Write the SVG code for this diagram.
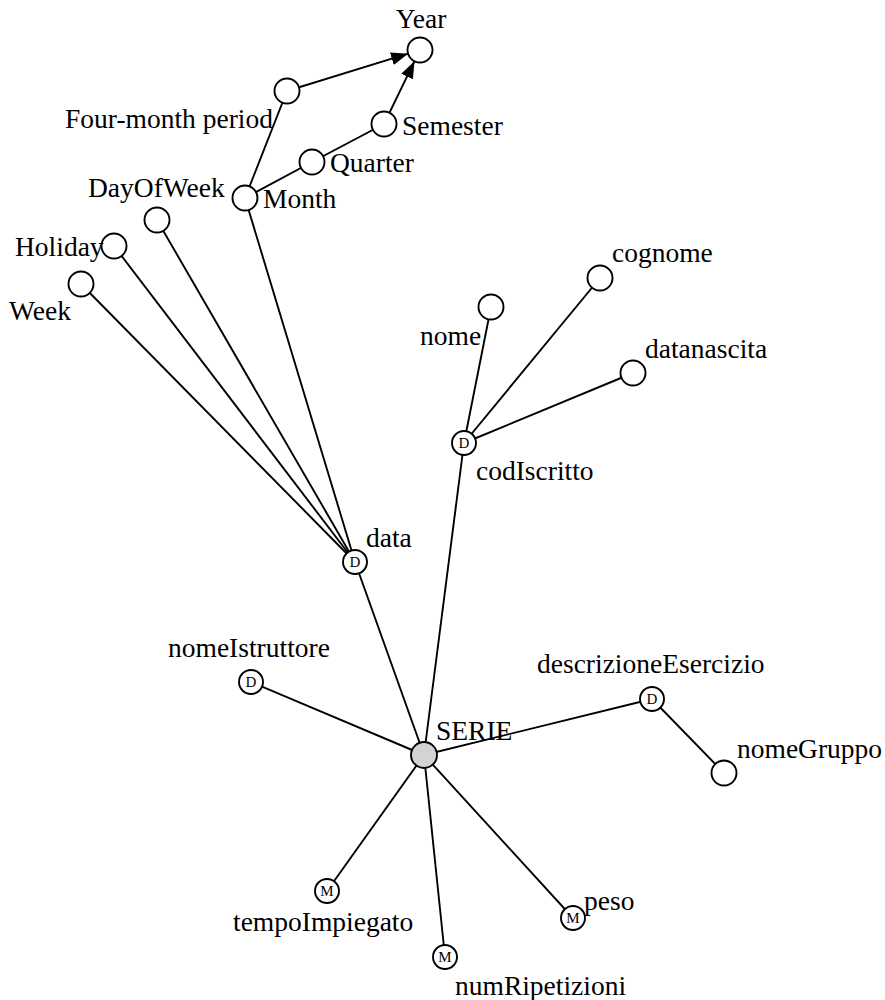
<svg xmlns="http://www.w3.org/2000/svg" width="885" height="1000" viewBox="0 0 885 1000">
<style>
.e{stroke:#000;stroke-width:1.9;fill:none}
.n{fill:#fff;stroke:#000;stroke-width:1.9}
.f{fill:#d3d3d3;stroke:#000;stroke-width:1.9}
.t{font-family:"Liberation Serif","Times New Roman",serif;font-size:27.5px;fill:#000}
.s{font-family:"Liberation Serif","Times New Roman",serif;font-size:15px;fill:#000;text-anchor:middle}
</style>
<defs>
<marker id="arr" markerUnits="userSpaceOnUse" markerWidth="19" markerHeight="14" refX="17" refY="6.5" orient="auto">
<path d="M0,0 L17,6.5 L0,13 z" fill="#000"/>
</marker>
</defs>
<rect width="885" height="1000" fill="#fff"/>
<g id="connectors">
<line class="e" x1="287" y1="91" x2="408.1" y2="53.7" marker-end="url(#arr)"/>
<line class="e" x1="384" y1="124" x2="414.5" y2="61.2" marker-end="url(#arr)"/>
<line class="e" x1="245" y1="198" x2="287" y2="91"/>
<line class="e" x1="245" y1="198" x2="312" y2="162"/>
<line class="e" x1="312" y1="162" x2="384" y2="124"/>
<line class="e" x1="355" y1="562" x2="81" y2="284"/>
<line class="e" x1="355" y1="562" x2="114" y2="246"/>
<line class="e" x1="355" y1="562" x2="157" y2="220"/>
<line class="e" x1="355" y1="562" x2="245" y2="198"/>
<line class="e" x1="424" y1="755" x2="355" y2="562"/>
<line class="e" x1="424" y1="755" x2="464" y2="443"/>
<line class="e" x1="464" y1="443" x2="491" y2="307"/>
<line class="e" x1="464" y1="443" x2="600" y2="278"/>
<line class="e" x1="464" y1="443" x2="633" y2="373"/>
<line class="e" x1="424" y1="755" x2="251" y2="682"/>
<line class="e" x1="424" y1="755" x2="652" y2="699"/>
<line class="e" x1="652" y1="699" x2="724" y2="773"/>
<line class="e" x1="424" y1="755" x2="327" y2="891"/>
<line class="e" x1="424" y1="755" x2="445" y2="957"/>
<line class="e" x1="424" y1="755" x2="573" y2="918"/>
</g>
<g id="node-year"><circle class="n" cx="420" cy="50" r="12.5"/><text class="t" x="421" y="28" text-anchor="middle">Year</text></g>
<g id="node-fourmonth"><circle class="n" cx="287" cy="91" r="12.5"/><text class="t" x="65" y="128">Four-month period</text></g>
<g id="node-semester"><circle class="n" cx="384" cy="124" r="12.5"/><text class="t" x="402" y="135">Semester</text></g>
<g id="node-quarter"><circle class="n" cx="312" cy="162" r="12.5"/><text class="t" x="330" y="172">Quarter</text></g>
<g id="node-month"><circle class="n" cx="245" cy="198" r="12.5"/><text class="t" x="263" y="208">Month</text></g>
<g id="node-dayofweek"><circle class="n" cx="157" cy="220" r="12.5"/><text class="t" x="88" y="197">DayOfWeek</text></g>
<g id="node-holiday"><circle class="n" cx="114" cy="246" r="12.5"/><text class="t" x="15" y="256">Holiday</text></g>
<g id="node-week"><circle class="n" cx="81" cy="284" r="12.5"/><text class="t" x="9" y="320">Week</text></g>
<g id="node-data"><circle class="n" cx="355" cy="562" r="12"/><text class="s" x="355" y="567">D</text><text class="t" x="366" y="547">data</text></g>
<g id="node-codiscritto"><circle class="n" cx="464" cy="443" r="12"/><text class="s" x="464" y="448">D</text><text class="t" x="476" y="480">codIscritto</text></g>
<g id="node-nome"><circle class="n" cx="491" cy="307" r="12.5"/><text class="t" x="420" y="345">nome</text></g>
<g id="node-cognome"><circle class="n" cx="600" cy="278" r="12.5"/><text class="t" x="612" y="262">cognome</text></g>
<g id="node-datanascita"><circle class="n" cx="633" cy="373" r="12.5"/><text class="t" x="645" y="358">datanascita</text></g>
<g id="node-nomeistruttore"><circle class="n" cx="251" cy="682" r="12"/><text class="s" x="251" y="687">D</text><text class="t" x="168" y="657">nomeIstruttore</text></g>
<g id="node-serie"><circle class="f" cx="424" cy="755" r="13"/><text class="t" x="436" y="740">SERIE</text></g>
<g id="node-descrizioneesercizio"><circle class="n" cx="652" cy="699" r="12"/><text class="s" x="652" y="704">D</text><text class="t" x="537" y="673">descrizioneEsercizio</text></g>
<g id="node-nomegruppo"><circle class="n" cx="724" cy="773" r="12.5"/><text class="t" x="737" y="758">nomeGruppo</text></g>
<g id="node-tempoimpiegato"><circle class="n" cx="327" cy="891" r="12"/><text class="s" x="327" y="896">M</text><text class="t" x="233" y="931">tempoImpiegato</text></g>
<g id="node-numripetizioni"><circle class="n" cx="445" cy="957" r="12"/><text class="s" x="445" y="962">M</text><text class="t" x="455" y="995">numRipetizioni</text></g>
<g id="node-peso"><circle class="n" cx="573" cy="918" r="12"/><text class="s" x="573" y="923">M</text><text class="t" x="584" y="910">peso</text></g>
</svg>
